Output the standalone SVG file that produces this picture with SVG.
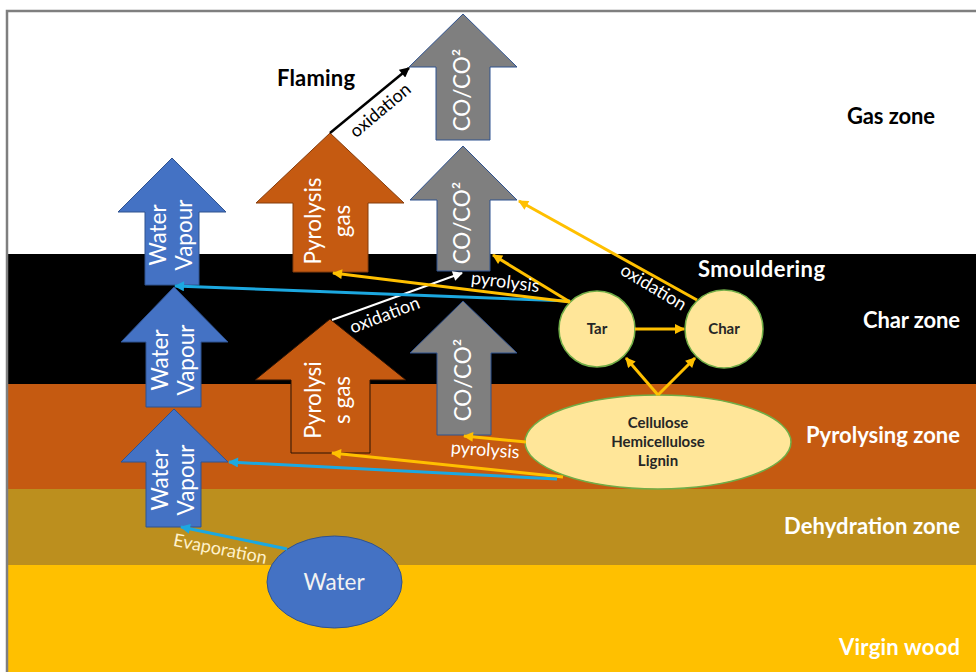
<svg xmlns="http://www.w3.org/2000/svg" width="976" height="672" viewBox="0 0 976 672">
<defs>
<style>
.zone{font-family:Lato,"Liberation Sans",sans-serif;font-weight:bold;font-size:22px;fill:#fff}
.big{font-family:Lato,"Liberation Sans",sans-serif;font-size:22.5px;fill:#fff}
.lbl{font-family:Lato,"Liberation Sans",sans-serif;font-size:18px;fill:#fff}
.nd{font-family:Lato,"Liberation Sans",sans-serif;font-weight:bold;fill:#262626}
.wv{fill:#4472C4;stroke:#2F528F;stroke-width:1}
.co{fill:#7F7F7F;stroke:#2F528F;stroke-width:1}
.py{fill:#C55A11;stroke:#843C0C;stroke-width:1}
.org{fill:#FFE699;stroke:#70AD47;stroke-width:1.5}
.cy{stroke:#FFC000;stroke-width:3;fill:none;marker-end:url(#mY)}
.cb{stroke:#1CA8E0;stroke-width:3;fill:none;marker-end:url(#mB)}
</style>
<marker id="mY" viewBox="0 0 10 10" refX="9" refY="5" markerWidth="11" markerHeight="10" markerUnits="userSpaceOnUse" orient="auto"><path d="M0,0 L10,5 L0,10 z" fill="#FFC000"/></marker>
<marker id="mB" viewBox="0 0 10 10" refX="9" refY="5" markerWidth="11" markerHeight="10" markerUnits="userSpaceOnUse" orient="auto"><path d="M0,0 L10,5 L0,10 z" fill="#1CA8E0"/></marker>
<marker id="mK" viewBox="0 0 10 10" refX="9" refY="5" markerWidth="11" markerHeight="10" markerUnits="userSpaceOnUse" orient="auto"><path d="M0,0 L10,5 L0,10 z" fill="#000"/></marker>
<marker id="mW" viewBox="0 0 10 10" refX="9" refY="5" markerWidth="11" markerHeight="10" markerUnits="userSpaceOnUse" orient="auto"><path d="M0,0 L10,5 L0,10 z" fill="#fff"/></marker>
</defs>

<!-- background layers -->
<rect x="0" y="0" width="976" height="672" fill="#fff"/>
<rect x="8" y="254" width="968" height="130" fill="#000"/>
<rect x="8" y="384" width="968" height="105" fill="#C55A11"/>
<rect x="8" y="489" width="968" height="76" fill="#BC8F1E"/>
<rect x="8" y="565" width="968" height="107" fill="#FFC000"/>
<path d="M7,672 V11 H976" fill="none" stroke="#7F7F7F" stroke-width="2.5"/>

<!-- zone labels -->
<text class="zone" x="847" y="124" style="fill:#000" textLength="88">Gas zone</text>
<text class="zone" x="698" y="277" textLength="127">Smouldering</text>
<text class="zone" x="960" y="328" text-anchor="end" textLength="97">Char zone</text>
<text class="zone" x="960" y="443" text-anchor="end" textLength="154">Pyrolysing zone</text>
<text class="zone" x="960" y="534" text-anchor="end" textLength="176">Dehydration zone</text>
<text class="zone" x="960" y="655" text-anchor="end" textLength="121">Virgin wood</text>
<text class="zone" x="277" y="86" style="fill:#000" textLength="78">Flaming</text>

<!-- nodes -->
<g id="wv1">
<polygon class="wv" points="172,158 226,212 199,212 199,285 145,285 145,212 118,212"/>
<g transform="translate(172,235) rotate(-90)"><text class="big" x="0" y="-6" text-anchor="middle">Water</text><text class="big" x="0" y="20" text-anchor="middle">Vapour</text></g>
</g>
<g id="wv2">
<polygon class="wv" points="174,287 228,342 201,342 201,407 146,407 146,342 121,342"/>
<g transform="translate(174,360) rotate(-90)"><text class="big" x="0" y="-6" text-anchor="middle">Water</text><text class="big" x="0" y="20" text-anchor="middle">Vapour</text></g>
</g>
<g id="wv3">
<polygon class="wv" points="174,409 228,462 201,462 201,527 146,527 146,462 121,462"/>
<g transform="translate(174,480) rotate(-90)"><text class="big" x="0" y="-6" text-anchor="middle">Water</text><text class="big" x="0" y="20" text-anchor="middle">Vapour</text></g>
</g>
<g id="pyro-gas-top">
<polygon class="py" points="330,133 404,203 368,203 368,272 293,272 293,203 256,203"/>
<g transform="translate(330,221) rotate(-90)"><text class="big" x="0" y="-9" text-anchor="middle">Pyrolysis</text><text class="big" x="0" y="20" text-anchor="middle">gas</text></g>
</g>
<g id="pyro-gas-low">
<polygon class="py" style="stroke:#2a1204" points="330,319 406,380 370,380 370,453 291,453 291,380 255,380"/>
<g transform="translate(330,400) rotate(-90)"><text class="big" x="0" y="-9" text-anchor="middle">Pyrolysi</text><text class="big" x="0" y="20" text-anchor="middle">s gas</text></g>
</g>
<g id="co-top">
<polygon class="co" points="463,14 517,67 490,67 490,140 436,140 436,67 409,67"/>
<g transform="translate(463,90) rotate(-90)"><text class="big" x="0" y="7" text-anchor="middle">CO/CO²</text></g>
</g>
<g id="co-mid">
<polygon class="co" points="463,146 517,200 490,200 490,271 437,271 437,200 410,200"/>
<g transform="translate(463,223) rotate(-90)"><text class="big" x="0" y="7" text-anchor="middle">CO/CO²</text></g>
</g>
<g id="co-low">
<polygon class="co" points="463,301 517,353 491,353 491,435 437,435 437,353 410,353"/>
<g transform="translate(464,380) rotate(-90)"><text class="big" x="0" y="7" text-anchor="middle">CO/CO²</text></g>
</g>
<g id="tar">
<circle class="org" cx="597" cy="329" r="38"/>
<text class="nd" x="597" y="334" font-size="15" text-anchor="middle">Tar</text>
</g>
<g id="char">
<circle class="org" cx="724" cy="329" r="39"/>
<text class="nd" x="724" y="334" font-size="15" text-anchor="middle">Char</text>
</g>
<g id="wood-components">
<ellipse class="org" cx="658" cy="442" rx="133" ry="47"/>
<text class="nd" font-size="15" text-anchor="middle"><tspan x="658" y="428">Cellulose</tspan><tspan x="658" y="447">Hemicellulose</tspan><tspan x="658" y="466">Lignin</tspan></text>
</g>
<g id="water">
<ellipse cx="334.5" cy="582" rx="67.5" ry="46" fill="#4472C4" stroke="#2F528F" stroke-width="1"/>
<text class="big" x="334" y="590" text-anchor="middle" style="fill:#F2F2F2">Water</text>
</g>

<!-- connectors -->
<g id="connectors">
<line x1="330" y1="133" x2="409" y2="68" stroke="#000" stroke-width="2.5" marker-end="url(#mK)"/>
<line x1="332" y1="320" x2="462" y2="273" stroke="#fff" stroke-width="2" marker-end="url(#mW)"/>
<line class="cb" x1="570" y1="301" x2="175" y2="286"/>
<line class="cy" x1="570" y1="302" x2="333" y2="273"/>
<line class="cy" x1="570" y1="302" x2="493" y2="255"/>
<line class="cy" x1="697" y1="300" x2="519" y2="201"/>
<line class="cy" x1="635" y1="329" x2="684" y2="329"/>
<line class="cy" x1="658" y1="395" x2="626" y2="358"/>
<line class="cy" x1="658" y1="395" x2="695" y2="358"/>
<line class="cy" x1="526" y1="442" x2="464" y2="436"/>
<line class="cy" x1="563" y1="477" x2="332" y2="453"/>
<line class="cb" x1="557" y1="479" x2="229" y2="462"/>
<line class="cb" x1="287" y1="549" x2="181" y2="527"/>
<!-- connector labels -->
<g transform="translate(381,111) rotate(-40)"><text class="lbl" x="0" y="5" text-anchor="middle" style="fill:#000">oxidation</text></g>
<g transform="translate(385,316) rotate(-21)"><text class="lbl" x="0" y="5" text-anchor="middle">oxidation</text></g>
<g transform="translate(653,288) rotate(31)"><text class="lbl" x="0" y="5" text-anchor="middle">oxidation</text></g>
<g transform="translate(505,284) rotate(7)"><text class="lbl" x="0" y="4" text-anchor="middle">pyrolysis</text></g>
<g transform="translate(485,452) rotate(4)"><text class="lbl" x="0" y="4" text-anchor="middle">pyrolysis</text></g>
<g transform="translate(220,550) rotate(11)"><text class="lbl" x="0" y="5" text-anchor="middle" style="fill:#FFF2CC">Evaporation</text></g>
</g>
</svg>
